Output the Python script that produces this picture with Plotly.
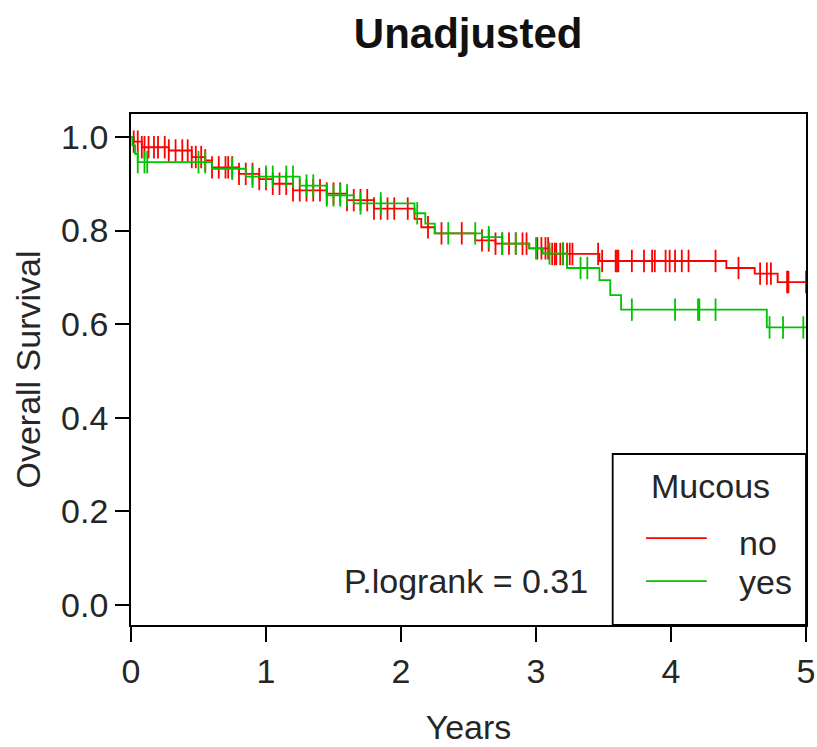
import numpy as np
import plotly.graph_objects as go

# ---- data ----
red_times = [0, 0.02, 0.08, 0.28, 0.45, 0.55, 0.60, 0.80, 0.95, 1.05, 1.20, 1.45, 1.60, 1.80,
             2.10, 2.15, 2.25, 2.55, 2.70, 2.95, 3.10, 3.47, 4.41, 4.62, 4.79]
red_surv = [1.0, 0.990, 0.978, 0.971, 0.957, 0.950, 0.935, 0.921, 0.910, 0.900, 0.886, 0.879, 0.865,
            0.847, 0.825, 0.807, 0.794, 0.779, 0.772, 0.762, 0.750, 0.735, 0.720, 0.708, 0.690]
red_censor = [0.02, 0.05, 0.08, 0.10, 0.13, 0.17, 0.20, 0.25, 0.28, 0.33, 0.38, 0.42, 0.45, 0.48,
              0.52, 0.55, 0.60, 0.65, 0.70, 0.72, 0.75, 0.80, 0.85, 0.90, 0.95, 1.00, 1.05, 1.10,
              1.15, 1.20, 1.25, 1.30, 1.35, 1.40, 1.45, 1.50, 1.55, 1.60, 1.65, 1.70, 1.75, 1.80,
              1.85, 1.90, 1.95, 2.05, 2.20, 2.30, 2.45, 2.60, 2.65, 2.70, 2.75, 2.80, 2.85, 2.90,
              2.93, 3.01, 3.04, 3.07, 3.09, 3.12, 3.14, 3.15, 3.18, 3.20, 3.23, 3.25, 3.27, 3.46,
              3.49, 3.59, 3.60, 3.61, 3.71, 3.80, 3.86, 3.88, 3.96, 3.99, 4.03, 4.08, 4.13, 4.33,
              4.50, 4.66, 4.71, 4.74, 4.86, 4.87, 5.00]

green_times = [0, 0.01, 0.03, 0.05, 0.60, 0.85, 1.25, 1.45, 1.65, 2.10, 2.18, 2.25, 2.60, 2.75,
               2.95, 3.05, 3.23, 3.47, 3.55, 3.63, 4.71]
green_surv = [1.0, 0.982, 0.964, 0.946, 0.932, 0.915, 0.896, 0.875, 0.858, 0.837, 0.815, 0.794,
              0.786, 0.772, 0.762, 0.751, 0.720, 0.694, 0.662, 0.631, 0.593]
green_censor = [0.05, 0.10, 0.12, 0.50, 0.55, 0.75, 0.90, 1.00, 1.05, 1.15, 1.20, 1.30, 1.35, 1.45,
                1.50, 1.55, 1.60, 1.70, 1.85, 2.12, 2.35, 2.55, 2.65, 2.75, 2.85, 3.00, 3.10, 3.20,
                3.33, 3.38, 3.71, 4.03, 4.20, 4.21, 4.33, 4.73, 4.83, 4.98]

x_ticks = [0, 1, 2, 3, 4, 5]
y_ticks = [0.0, 0.2, 0.4, 0.6, 0.8, 1.0]
y_tick_labels = ["0.0", "0.2", "0.4", "0.6", "0.8", "1.0"]
groups = ["no", "yes"]
t_end = 5.0

RED = "#FF0000"
GREEN = "#00C400"
FONT = "Liberation Sans, Arial, sans-serif"
TXT = "#262626"
FS = 34


def step_xy(times, surv, end):
    return list(times) + [end], list(surv) + [surv[-1]]


def surv_at(times, surv, pts):
    idx = np.searchsorted(np.array(times), np.array(pts), side="right") - 1
    return [surv[i] for i in idx]


fig = go.Figure()
for times, surv, cens, col, name in [
    (red_times, red_surv, red_censor, RED, groups[0]),
    (green_times, green_surv, green_censor, GREEN, groups[1]),
]:
    sx, sy = step_xy(times, surv, t_end)
    fig.add_trace(go.Scatter(x=sx, y=sy, mode="lines", line=dict(color=col, width=1.8, shape="hv"),
                             name=name, showlegend=False, hoverinfo="skip"))
    fig.add_trace(go.Scatter(x=cens, y=surv_at(times, surv, cens), mode="markers",
                             marker=dict(symbol="line-ns", size=16,
                                         line=dict(color=col, width=1.8)),
                             showlegend=False, hoverinfo="skip"))

fig.update_layout(
    width=817, height=747,
    margin=dict(l=131, r=11, t=114, b=122, autoexpand=False),
    paper_bgcolor="white", plot_bgcolor="white",
    font=dict(family=FONT, color=TXT, size=FS),
    title=dict(text="<b>Unadjusted</b>", x=0.573, xanchor="center", y=0.956, yanchor="middle",
               font=dict(family=FONT, size=42, color="#111")),
    xaxis=dict(range=[0, 5], tickvals=x_ticks, ticks="outside", ticklen=15, tickwidth=1.8,
               tickcolor="black", showline=True, linecolor="black", linewidth=1.8, mirror=True,
               showgrid=False, zeroline=False, tickfont=dict(size=FS), automargin=False,
               title=dict(text="Years", font=dict(size=FS), standoff=26)),
    yaxis=dict(range=[-0.0427, 1.049], tickvals=y_ticks, ticktext=y_tick_labels, ticks="outside",
               ticklen=14, tickwidth=1.8, tickcolor="black", showline=True, linecolor="black",
               linewidth=1.8, mirror=True, showgrid=False, zeroline=False, tickfont=dict(size=FS),
               automargin=False,
               title=dict(text="Overall Survival", font=dict(size=FS), standoff=10)),
)

# legend box (R-style)
fig.add_shape(type="rect", xref="paper", yref="paper", x0=0.7136, x1=1.0, y0=0.0, y1=0.3346,
              line=dict(color="black", width=1.8), fillcolor="white", layer="above")
fig.add_annotation(xref="paper", yref="paper", x=0.859, y=0.272, text="Mucous", showarrow=False,
                   font=dict(size=FS, color=TXT), xanchor="center", yanchor="middle")
for yy_line, yy_txt, col, lab in [(0.170, 0.160, RED, groups[0]), (0.086, 0.085, GREEN, groups[1])]:
    fig.add_shape(type="line", xref="paper", yref="paper", x0=0.763, x1=0.853, y0=yy_line, y1=yy_line,
                  line=dict(color=col, width=1.8), layer="above")
    fig.add_annotation(xref="paper", yref="paper", x=0.898, y=yy_txt, text=lab, showarrow=False,
                       font=dict(size=FS, color=TXT), xanchor="left", yanchor="middle")

fig.add_annotation(x=2.485, y=0.051, text="P.logrank = 0.31", showarrow=False,
                   font=dict(size=FS, color=TXT), xanchor="center", yanchor="middle")

fig.write_html("out.html")
